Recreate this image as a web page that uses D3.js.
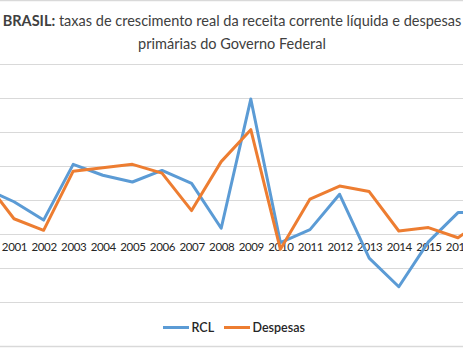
<!DOCTYPE html>
<html>
<head>
<meta charset="utf-8">
<script src="https://cdn.jsdelivr.net/npm/d3@7"></script>
<style>
  html, body { margin: 0; padding: 0; background: #fff; overflow: hidden; }
  svg { display: block; }
  text { font-family: Lato, "Open Sans", sans-serif; }
</style>
</head>
<body>
<svg id="chart" width="463" height="348"></svg>
<script>
// ---- data ----
const years = [2000, 2001, 2002, 2003, 2004, 2005, 2006, 2007, 2008, 2009,
               2010, 2011, 2012, 2013, 2014, 2015, 2016, 2017];
const rcl = [6.7, 4.7, 2.0, 10.2, 8.6, 7.6, 9.3, 7.4, 0.8, 19.8,
             -1.3, 0.6, 5.8, -3.6, -7.8, -1.2, 3.1, 3.1];
const despesas = [7.9, 2.2, 0.5, 9.2, 9.7, 10.2, 8.9, 3.4, 10.6, 15.3,
                  -2.3, 5.1, 7.0, 6.2, 0.4, 0.9, -0.6, 2.5];
const yTicks = [-10, -5, 0, 5, 10, 15, 20, 25];
const seriesNames = ["RCL", "Despesas"];
const titleBold = "BRASIL:";
const titleRest = " taxas de crescimento real da receita corrente líquida e despesas";
const titleLine2 = "primárias do Governo  Federal";

// ---- layout ----
const W = 463, H = 348;
const colors = ["#5B9BD5", "#ED7D31"];
const svg = d3.select("#chart");

const x = d3.scalePoint().domain(years).range([-15.6, 487.6]);
const y = d3.scaleLinear().domain([-10, 25]).range([301.7, 63.7]);

// chart border lines (top/bottom of the cropped chart area)
svg.append("line").attr("x1", 0).attr("x2", W).attr("y1", 0.5).attr("y2", 0.5)
  .attr("stroke", "#d9d9d9").attr("stroke-width", 1.5);
svg.append("line").attr("x1", 0).attr("x2", W).attr("y1", H - 1.5).attr("y2", H - 1.5)
  .attr("stroke", "#d9d9d9").attr("stroke-width", 1.5);

// gridlines
svg.append("g").selectAll("line").data(yTicks).join("line")
  .attr("x1", 0).attr("x2", W)
  .attr("y1", d => Math.round(y(d)) + 0.5).attr("y2", d => Math.round(y(d)) + 0.5)
  .attr("stroke", "#d9d9d9").attr("stroke-width", 1);

// x axis (category labels under the zero line)
const xAxis = svg.append("g")
  .attr("transform", `translate(0,${y(0)})`)
  .call(d3.axisBottom(x).tickSize(0).tickPadding(9).tickFormat(d3.format("d")));
xAxis.select(".domain").remove();
xAxis.selectAll("text")
  .attr("fill", "#262626")
  .style("font-family", "Lato, sans-serif")
  .style("font-size", "11.5px")
  .style("letter-spacing", "-0.35px");

// lines
const line = d3.line().x((d, i) => x(years[i])).y(d => y(d));
[rcl, despesas].forEach((s, k) => {
  svg.append("path").datum(s)
    .attr("d", line)
    .attr("fill", "none")
    .attr("stroke", colors[k])
    .attr("stroke-width", 3)
    .attr("stroke-linejoin", "round")
    .attr("stroke-linecap", "round");
});

// title
const t1 = svg.append("text").attr("text-anchor", "middle")
  .attr("x", 232).attr("y", 26).attr("fill", "#404040").style("font-size", "15px");
t1.append("tspan").attr("font-weight", "bold").text(titleBold);
t1.append("tspan").text(titleRest);
const w1 = t1.node().getComputedTextLength();
const fs = 15 * 459 / w1;
t1.style("font-size", fs + "px");
svg.append("text").attr("text-anchor", "middle")
  .attr("x", 232).attr("y", 48.5).attr("fill", "#404040")
  .style("font-size", fs + "px")
  .text(titleLine2);

// legend
const legend = svg.append("g").attr("transform", "translate(0,327.5)");
const legItems = [
  { name: seriesNames[0], x0: 163, color: colors[0] },
  { name: seriesNames[1], x0: 224, color: colors[1] }
];
legItems.forEach(it => {
  legend.append("line").attr("x1", it.x0).attr("x2", it.x0 + 26)
    .attr("y1", 0).attr("y2", 0)
    .attr("stroke", it.color).attr("stroke-width", 3);
  legend.append("text").attr("x", it.x0 + 28.5).attr("y", 4.5)
    .attr("fill", "#262626").style("font-size", "12.5px")
    .attr("font-weight", "600")
    .text(it.name);
});
</script>
</body>
</html>
